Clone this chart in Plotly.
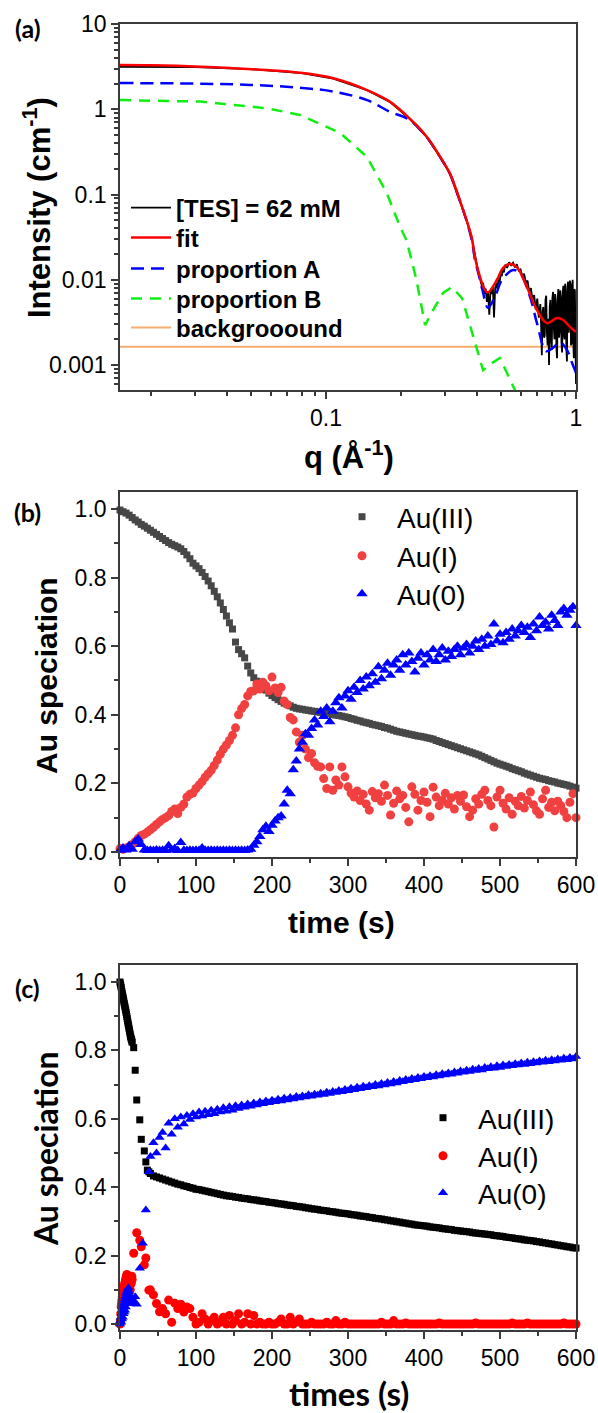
import plotly.graph_objects as go

W, H = 598, 1413

# ---------------- panel (a) data ----------------
Q_FIT = [0.015, 0.02, 0.0314, 0.0578, 0.0786, 0.107, 0.146, 0.180, 0.216, 0.253, 0.286, 0.313,
         0.343, 0.365, 0.383, 0.394, 0.413, 0.432, 0.444, 0.483, 0.51, 0.545, 0.58, 0.637,
         0.698, 0.766, 0.839, 0.887, 0.946, 1.0]
I_FIT = [3.30, 3.28, 3.16, 2.88, 2.68, 2.31, 1.68, 1.23, 0.78, 0.476, 0.278, 0.177,
         0.086, 0.050, 0.031, 0.0185, 0.0108, 0.0076, 0.0071, 0.0100, 0.0137, 0.0153, 0.0141, 0.0082,
         0.0044, 0.0031, 0.00356, 0.0034, 0.0028, 0.00244]

Q_A = [0.015, 0.03, 0.05, 0.0786, 0.107, 0.146, 0.18, 0.216, 0.253, 0.286, 0.313, 0.343, 0.365,
       0.383, 0.394, 0.413, 0.423, 0.444, 0.474, 0.506, 0.56, 0.597, 0.655, 0.698, 0.76, 0.81,
       0.863, 0.92, 0.963, 1.0]
I_A = [2.03, 2.00, 1.93, 1.79, 1.61, 1.28, 0.935, 0.75, 0.47, 0.275, 0.175, 0.085, 0.049,
       0.029, 0.0175, 0.0100, 0.0075, 0.0047, 0.0063, 0.0100, 0.0130, 0.0120, 0.0063, 0.0031, 0.00145, 0.00160,
       0.00185, 0.00150, 0.00107, 0.00081]

Q_B = [0.015, 0.0314, 0.0578, 0.0786, 0.114, 0.146, 0.175, 0.198, 0.21, 0.23, 0.249, 0.268, 0.294,
       0.319, 0.35, 0.38, 0.413, 0.425, 0.46, 0.496, 0.53, 0.57, 0.62]
I_B = [1.28, 1.23, 1.03, 0.857, 0.526, 0.275, 0.104, 0.0416, 0.029, 0.010, 0.00294, 0.0044, 0.0070,
       0.0082, 0.0061, 0.0027, 0.00121, 0.00087, 0.00105, 0.00121, 0.0008, 0.0005, 0.0003]

Q_DATA_LOW = [0.015, 0.02, 0.03, 0.05, 0.08, 0.107, 0.146, 0.18, 0.216, 0.253, 0.286, 0.313, 0.343,
              0.365, 0.383, 0.394, 0.405, 0.41]
I_DATA_LOW = [3.15, 3.15, 3.12, 2.95, 2.65, 2.29, 1.67, 1.22, 0.77, 0.47, 0.275, 0.175, 0.085,
              0.050, 0.031, 0.019, 0.013, 0.0112]
Q_DATA_MID = [0.415, 0.42, 0.425, 0.43, 0.435, 0.44, 0.445, 0.45, 0.455, 0.46, 0.465, 0.47, 0.475,
              0.48, 0.485, 0.49, 0.495, 0.50, 0.505, 0.51, 0.515, 0.52, 0.53, 0.54, 0.55, 0.56,
              0.57, 0.58, 0.59, 0.60, 0.61, 0.62, 0.63, 0.64, 0.65, 0.66, 0.67, 0.68, 0.69, 0.70,
              0.71]
I_DATA_MID = [0.0098, 0.0085, 0.0092, 0.0068, 0.0079, 0.0055, 0.0072, 0.0039, 0.0075, 0.0068, 0.0082,
              0.0036, 0.0080, 0.0091, 0.0078, 0.0105, 0.0094, 0.0118, 0.0110, 0.0135, 0.0122, 0.0150,
              0.0138, 0.0160, 0.0148, 0.0158, 0.0140, 0.0152, 0.0128, 0.0132, 0.0110, 0.0118, 0.0092,
              0.0098, 0.0072, 0.0080, 0.0058, 0.0066, 0.0045, 0.0060, 0.0036]
Q_DATA_HIGH = [0.720, 0.725, 0.730, 0.735, 0.740, 0.745, 0.750, 0.755, 0.760, 0.765, 0.770,
               0.775, 0.780, 0.785, 0.790, 0.795, 0.800, 0.805, 0.810, 0.815, 0.820, 0.825,
               0.830, 0.835, 0.840, 0.845, 0.850, 0.855, 0.860, 0.865, 0.870, 0.875, 0.880,
               0.885, 0.890, 0.895, 0.900, 0.905, 0.910, 0.915, 0.920, 0.925, 0.930, 0.935,
               0.940, 0.945, 0.950, 0.955, 0.960, 0.965, 0.970, 0.975, 0.980, 0.985, 0.990,
               0.995, 1.000]
I_DATA_HIGH = [0.0052, 0.0030, 0.0013, 0.0042, 0.0048, 0.0021, 0.0022, 0.0058, 0.0065, 0.0024, 0.0017,
               0.0035, 0.0010, 0.0048, 0.0058, 0.0019, 0.0015, 0.0062, 0.0072, 0.0028, 0.0020, 0.0068,
               0.0055, 0.0016, 0.0012, 0.0060, 0.0078, 0.0021, 0.0025, 0.0075, 0.0062, 0.0018, 0.0014,
               0.0070, 0.0085, 0.0022, 0.0020, 0.0090, 0.0070, 0.0016, 0.0011, 0.0082, 0.0095, 0.0024,
               0.0030, 0.0098, 0.0088, 0.0017, 0.0018, 0.0085, 0.0100, 0.0020, 0.0012, 0.0078, 0.0075,
               0.0020, 0.0006]
Q_BG = [0.015, 1.0]
I_BG = [0.00164, 0.00164]

# ---------------- panel (b) data (4 s sampling) ----------------
T_B = list(range(0, 601, 4))
B_AU3 = [0.997, 0.992, 0.988, 0.982, 0.975, 0.968, 0.962, 0.955, 0.950, 0.944,
         0.938, 0.932, 0.926, 0.920, 0.914, 0.908, 0.902, 0.897, 0.893, 0.889,
         0.884, 0.876, 0.866, 0.855, 0.842, 0.834, 0.826, 0.815, 0.803, 0.790,
         0.776, 0.760, 0.744, 0.726, 0.707, 0.688, 0.668, 0.650, 0.612, 0.590,
         0.578, 0.566, 0.542, 0.522, 0.508, 0.498, 0.488, 0.480, 0.472, 0.463,
         0.456, 0.450, 0.444, 0.439, 0.434, 0.430, 0.426, 0.422, 0.419, 0.417,
         0.416, 0.414, 0.413, 0.411, 0.410, 0.408, 0.407, 0.405, 0.404, 0.403,
         0.401, 0.399, 0.398, 0.396, 0.394, 0.392, 0.389, 0.387, 0.384, 0.382,
         0.379, 0.377, 0.375, 0.372, 0.370, 0.368, 0.366, 0.363, 0.361, 0.358,
         0.355, 0.352, 0.350, 0.348, 0.346, 0.344, 0.342, 0.340, 0.338, 0.337,
         0.335, 0.333, 0.331, 0.329, 0.325, 0.322, 0.319, 0.316, 0.313, 0.310,
         0.307, 0.304, 0.301, 0.298, 0.295, 0.292, 0.289, 0.286, 0.283, 0.279,
         0.275, 0.271, 0.267, 0.263, 0.259, 0.256, 0.253, 0.250, 0.247, 0.243,
         0.240, 0.237, 0.234, 0.230, 0.227, 0.224, 0.221, 0.218, 0.215, 0.213,
         0.211, 0.208, 0.206, 0.204, 0.201, 0.199, 0.197, 0.195, 0.192, 0.189,
         0.186]
B_AU1 = [0.010, 0.008, 0.012, 0.015, 0.022, 0.030, 0.040, 0.048, 0.052, 0.058,
         0.065, 0.072, 0.080, 0.088, 0.095, 0.100, 0.106, 0.118, 0.125, 0.112,
         0.130, 0.140, 0.160, 0.168, 0.172, 0.185, 0.195, 0.205, 0.218, 0.228,
         0.238, 0.252, 0.268, 0.285, 0.300, 0.312, 0.325, 0.340, 0.362, 0.400,
         0.418, 0.430, 0.455, 0.468, 0.470, 0.490, 0.475, 0.495, 0.485, 0.470,
         0.510, 0.478, 0.465, 0.480, 0.440, 0.430, 0.392, 0.385, 0.350, 0.320,
         0.340, 0.300, 0.275, 0.287, 0.260, 0.250, 0.248, 0.214, 0.185, 0.248,
         0.180, 0.210, 0.195, 0.248, 0.219, 0.190, 0.172, 0.160, 0.178, 0.150,
         0.168, 0.140, 0.122, 0.176, 0.158, 0.170, 0.148, 0.195, 0.165, 0.108,
         0.142, 0.178, 0.155, 0.165, 0.130, 0.088, 0.190, 0.168, 0.122, 0.150,
         0.175, 0.145, 0.103, 0.189, 0.160, 0.135, 0.150, 0.171, 0.140, 0.158,
         0.125, 0.165, 0.148, 0.166, 0.132, 0.103, 0.122, 0.155, 0.140, 0.168,
         0.180, 0.150, 0.135, 0.073, 0.160, 0.180, 0.142, 0.125, 0.158, 0.110,
         0.148, 0.135, 0.162, 0.128, 0.150, 0.175, 0.138, 0.120, 0.110, 0.155,
         0.180, 0.130, 0.145, 0.120, 0.148, 0.135, 0.118, 0.100, 0.145, 0.170,
         0.100]
B_AU0 = [0.005, 0.012, 0.006, 0.018, 0.008, 0.030, 0.038, 0.022, 0.006, 0.004,
         0.005, 0.004, 0.006, 0.004, 0.005, 0.004, 0.018, 0.006, 0.010, 0.004,
         0.028, 0.005, 0.004, 0.005, 0.004, 0.005, 0.004, 0.012, 0.005, 0.004,
         0.005, 0.004, 0.005, 0.004, 0.005, 0.004, 0.005, 0.004, 0.005, 0.004,
         0.005, 0.004, 0.006, 0.008, 0.020, 0.030, 0.045, 0.065, 0.075, 0.060,
         0.078, 0.090, 0.100, 0.105, 0.140, 0.180, 0.170, 0.240, 0.265, 0.300,
         0.320, 0.345, 0.340, 0.360, 0.385, 0.370, 0.410, 0.395, 0.420, 0.380,
         0.410, 0.435, 0.450, 0.420, 0.455, 0.470, 0.445, 0.480, 0.465, 0.500,
         0.475, 0.510, 0.485, 0.520, 0.495, 0.540, 0.505, 0.530, 0.550, 0.515,
         0.545, 0.560, 0.530, 0.575, 0.545, 0.580, 0.555, 0.525, 0.565, 0.580,
         0.545, 0.575, 0.560, 0.590, 0.555, 0.575, 0.595, 0.560, 0.585, 0.570,
         0.590, 0.600, 0.575, 0.595, 0.605, 0.580, 0.600, 0.615, 0.590, 0.620,
         0.600, 0.630, 0.605, 0.665, 0.615, 0.635, 0.610, 0.640, 0.620, 0.650,
         0.630, 0.645, 0.660, 0.640, 0.655, 0.625, 0.665, 0.645, 0.685, 0.660,
         0.670, 0.650, 0.690, 0.675, 0.660, 0.700, 0.710, 0.690, 0.705, 0.715,
         0.660]

# ---------------- panel (c) data ----------------
T_C = [i * 0.5 for i in range(33)] + list(range(18, 41, 2)) + list(range(44, 601, 4))
C_AU3 = [1.000, 0.995, 0.990, 0.984, 0.978, 0.972, 0.966, 0.960, 0.955, 0.950,
         0.944, 0.938, 0.933, 0.928, 0.922, 0.917, 0.911, 0.905, 0.899, 0.893,
         0.887, 0.881, 0.875, 0.869, 0.863, 0.858, 0.852, 0.846, 0.840, 0.836,
         0.832, 0.828, 0.824,
         0.808, 0.742, 0.655, None, 0.597, 0.540, None, 0.506, 0.474, 0.450, 0.445, 0.440,
         0.433, 0.430, 0.427, 0.424, 0.421, 0.418, 0.415, 0.412, 0.409, 0.407,
         0.404, 0.402, 0.399, 0.397, 0.394, 0.393, 0.391, 0.389, 0.387, 0.385,
         0.383, 0.381, 0.379, 0.377, 0.375, 0.374, 0.373, 0.371, 0.370, 0.368,
         0.367, 0.366, 0.364, 0.363, 0.362, 0.360, 0.359, 0.358, 0.356, 0.355,
         0.354, 0.352, 0.351, 0.350, 0.348, 0.347, 0.346, 0.344, 0.343, 0.342,
         0.340, 0.339, 0.337, 0.336, 0.335, 0.333, 0.332, 0.331, 0.329, 0.328,
         0.327, 0.325, 0.324, 0.323, 0.322, 0.320, 0.319, 0.318, 0.316, 0.315,
         0.314, 0.312, 0.311, 0.309, 0.308, 0.307, 0.305, 0.304, 0.302, 0.301,
         0.299, 0.298, 0.296, 0.295, 0.293, 0.292, 0.290, 0.289, 0.288, 0.287,
         0.286, 0.284, 0.283, 0.282, 0.281, 0.279, 0.278, 0.277, 0.276, 0.274,
         0.273, 0.272, 0.271, 0.270, 0.269, 0.267, 0.266, 0.265, 0.264, 0.263,
         0.262, 0.261, 0.259, 0.258, 0.257, 0.256, 0.254, 0.253, 0.252, 0.250,
         0.249, 0.248, 0.246, 0.245, 0.244, 0.243, 0.241, 0.240, 0.238, 0.237,
         0.235, 0.234, 0.232, 0.231, 0.229, 0.228, 0.226, 0.225, 0.223, 0.222]
C_AU1 = [0.000, 0.010, 0.030, 0.050, 0.060, 0.070, 0.080, 0.090, 0.095, 0.100,
         0.105, 0.110, 0.115, 0.120, 0.125, 0.130, 0.135, 0.140, 0.145, 0.140,
         0.135, 0.140, 0.130, 0.120, 0.140, 0.125, 0.110, 0.100, 0.130, 0.135,
         0.120, 0.140, 0.130,
         0.207, None, 0.267, None, 0.245, 0.226, None, 0.173, 0.193, None, 0.099, 0.100,
         0.085, 0.060, 0.036, 0.045, 0.030, 0.070, 0.005, 0.061, 0.045, 0.058,
         0.035, 0.050, 0.045, 0.020, 0.000, 0.005, 0.030, 0.015, 0.000, 0.010,
         0.020, 0.000, 0.005, 0.020, 0.000, 0.025, 0.000, 0.010, 0.030, 0.000,
         0.005, 0.030, 0.000, 0.025, 0.000, 0.005, 0.000, 0.000, 0.005, 0.000,
         0.000, 0.005, 0.015, 0.000, 0.000, 0.020, 0.000, 0.005, 0.015, 0.000,
         0.000, 0.000, 0.005, 0.000, 0.000, 0.000, 0.000, 0.005, 0.000, 0.000,
         0.010, 0.000, 0.000, 0.005, 0.000, 0.000, 0.000, 0.000, 0.000, 0.000,
         0.000, 0.000, 0.000, 0.000, 0.000, 0.005, 0.000, 0.000, 0.000, 0.010,
         0.000, 0.000, 0.000, 0.003, 0.000, 0.000, 0.000, 0.000, 0.000, 0.000,
         0.000, 0.000, 0.000, 0.000, 0.003, 0.000, 0.000, 0.000, 0.000, 0.000,
         0.000, 0.000, 0.000, 0.000, 0.000, 0.000, 0.003, 0.000, 0.000, 0.000,
         0.000, 0.000, 0.000, 0.000, 0.000, 0.000, 0.000, 0.000, 0.003, 0.000,
         0.000, 0.000, 0.000, 0.003, 0.000, 0.000, 0.000, 0.000, 0.000, 0.000,
         0.000, 0.000, 0.000, 0.000, 0.000, 0.003, 0.000, 0.000, 0.000, 0.000]
C_AU0 = [0.000, 0.010, 0.020, 0.005, 0.030, 0.015, 0.040, 0.020, 0.050, 0.030,
         0.060, 0.035, 0.070, 0.040, 0.080, 0.050, 0.090, 0.060, 0.095, 0.070,
         0.100, 0.080, 0.105, 0.075, 0.095, 0.085, 0.070, 0.060, 0.080, 0.065,
         0.070, 0.060, 0.075,
         0.065, 0.080, 0.058, None, 0.163, None, 0.236, None, 0.333, None, 0.445, 0.490,
         0.530, 0.500, 0.545, 0.560, 0.515, 0.587, 0.555, 0.600, 0.575, 0.605,
         0.585, 0.610, 0.598, 0.615, 0.605, 0.620, 0.608, 0.622, 0.612, 0.625,
         0.615, 0.628, 0.620, 0.632, 0.622, 0.635, 0.625, 0.638, 0.630, 0.640,
         0.634, 0.643, 0.637, 0.646, 0.640, 0.649, 0.644, 0.652, 0.647, 0.654,
         0.650, 0.657, 0.652, 0.660, 0.655, 0.662, 0.658, 0.665, 0.661, 0.667,
         0.664, 0.670, 0.666, 0.672, 0.669, 0.675, 0.671, 0.678, 0.674, 0.680,
         0.677, 0.683, 0.679, 0.686, 0.682, 0.689, 0.685, 0.692, 0.688, 0.695,
         0.691, 0.697, 0.694, 0.700, 0.696, 0.703, 0.699, 0.706, 0.702, 0.709,
         0.705, 0.712, 0.708, 0.715, 0.711, 0.718, 0.714, 0.721, 0.717, 0.724,
         0.720, 0.726, 0.722, 0.729, 0.725, 0.732, 0.728, 0.734, 0.730, 0.737,
         0.733, 0.740, 0.736, 0.742, 0.738, 0.745, 0.741, 0.747, 0.743, 0.750,
         0.746, 0.752, 0.748, 0.755, 0.750, 0.757, 0.753, 0.759, 0.755, 0.761,
         0.757, 0.763, 0.759, 0.765, 0.761, 0.767, 0.763, 0.769, 0.765, 0.771,
         0.767, 0.773, 0.769, 0.775, 0.771, 0.777, 0.773, 0.779, 0.775, 0.782]

LEG_A = ["[TES] = 62 mM", "fit", "proportion A", "proportion B", "backgrooound"]
LEG_S = ["Au(III)", "Au(I)", "Au(0)"]

# ---------------- helpers ----------------
def px(x):
    return x / W

def py(y):
    return 1 - y / H

AX = "#3a3a3a"
ARIAL = "Liberation Sans, Arial, sans-serif"
TICKFONT = dict(family=ARIAL, size=23, color="black")
XDOM = [px(120), px(576)]

def base_axis(**kw):
    d = dict(showline=True, linecolor=AX, linewidth=1.6, mirror=True, ticks="outside",
             ticklen=7, tickwidth=1.5, tickcolor=AX, showgrid=False, zeroline=False,
             tickfont=TICKFONT, automargin=False)
    d.update(kw)
    return d

fig = go.Figure()

# ---- panel (a) ----
fig.add_trace(go.Scatter(x=Q_BG, y=I_BG, mode="lines", name=LEG_A[4],
                         line=dict(color="#F5AE70", width=2), xaxis="x", yaxis="y", legend="legend5"))
fig.add_trace(go.Scatter(x=Q_DATA_LOW + Q_DATA_MID + Q_DATA_HIGH,
                         y=I_DATA_LOW + I_DATA_MID + I_DATA_HIGH, mode="lines",
                         name=LEG_A[0], line=dict(color="black", width=1.8),
                         xaxis="x", yaxis="y", legend="legend"))
fig.add_trace(go.Scatter(x=Q_B, y=I_B, mode="lines", name=LEG_A[3],
                         line=dict(color="#11EE11", width=2.5, dash="11px,8px"),
                         xaxis="x", yaxis="y", legend="legend4"))
fig.add_trace(go.Scatter(x=Q_A, y=I_A, mode="lines", name=LEG_A[2],
                         line=dict(color="#0000FF", width=2.5, dash="13px,7px", shape="spline"),
                         xaxis="x", yaxis="y", legend="legend3"))
fig.add_trace(go.Scatter(x=Q_FIT, y=I_FIT, mode="lines", name=LEG_A[1],
                         line=dict(color="#FF0000", width=2.5, shape="spline"),
                         xaxis="x", yaxis="y", legend="legend2"))

# ---- panel (b) ----
fig.add_trace(go.Scatter(x=T_B, y=B_AU3, mode="markers", name=LEG_S[0], cliponaxis=False,
                         marker=dict(symbol="square", size=7, color="#474747"),
                         xaxis="x2", yaxis="y2", legend="legend6"))
fig.add_trace(go.Scatter(x=T_B, y=B_AU1, mode="markers", name=LEG_S[1], cliponaxis=False,
                         marker=dict(symbol="circle", size=9, color="#F04040"),
                         xaxis="x2", yaxis="y2", legend="legend7"))
fig.add_trace(go.Scatter(x=T_B, y=B_AU0, mode="markers", name=LEG_S[2], cliponaxis=False,
                         marker=dict(symbol="triangle-up", size=10, color="#0000FF"),
                         xaxis="x2", yaxis="y2", legend="legend8"))

# ---- panel (c) ----
fig.add_trace(go.Scatter(x=T_C, y=C_AU3, mode="markers", name=LEG_S[0], cliponaxis=False,
                         marker=dict(symbol="square", size=7, color="black"),
                         xaxis="x3", yaxis="y3", legend="legend9"))
fig.add_trace(go.Scatter(x=T_C, y=C_AU1, mode="markers", name=LEG_S[1], cliponaxis=False,
                         marker=dict(symbol="circle", size=9, color="#FF0000"),
                         xaxis="x3", yaxis="y3", legend="legend10"))
fig.add_trace(go.Scatter(x=T_C, y=C_AU0, mode="markers", name=LEG_S[2], cliponaxis=False,
                         marker=dict(symbol="triangle-up", size=9, color="#0000FF"),
                         xaxis="x3", yaxis="y3", legend="legend11"))

minor_y_log = [m * 10.0 ** e for e in range(-4, 1) for m in range(2, 10)]
minor_x_log = [m * 10.0 ** e for e in (-2, -1) for m in range(2, 10)]

def leg(x, yc, size, bold=False, itemwidth=40):
    f = dict(family=ARIAL, size=size, color="black")
    if bold:
        f["weight"] = "bold"
    return dict(x=px(x), y=py(yc), xanchor="left", yanchor="middle", bgcolor="rgba(0,0,0,0)",
                font=f, itemwidth=itemwidth, borderwidth=0)

legends = {}
for key, yc in zip(["legend", "legend2", "legend3", "legend4", "legend5"], [208, 238, 269, 299, 328]):
    legends[key] = leg(126, yc, 24, bold=True)
for key, yc in zip(["legend6", "legend7", "legend8"], [517, 556, 594]):
    legends[key] = leg(327, yc, 28, itemwidth=60)
for key, yc in zip(["legend9", "legend10", "legend11"], [1118, 1156, 1193]):
    legends[key] = leg(408, yc, 28, itemwidth=60)

fig.update_layout(
    template="none",
    width=W, height=H, margin=dict(l=0, r=0, t=0, b=0, autoexpand=False),
    paper_bgcolor="white", plot_bgcolor="white",
    xaxis=base_axis(type="log", domain=XDOM, range=[-1.824, 0], anchor="y",
                    tickvals=[0.1, 1], ticktext=["0.1", "1"],
                    minor=dict(tickvals=minor_x_log, ticks="outside", ticklen=4, tickcolor=AX)),
    yaxis=base_axis(type="log", domain=[py(390), py(24)], range=[-3.293, 1], anchor="x",
                    tickvals=[0.001, 0.01, 0.1, 1, 10], ticktext=["0.001", "0.01", "0.1", "1", "10"],
                    minor=dict(tickvals=minor_y_log, ticks="outside", ticklen=4, tickcolor=AX)),
    xaxis2=base_axis(domain=XDOM, range=[0, 600], anchor="y2", dtick=100, tick0=0,
                     minor=dict(dtick=50, ticks="outside", ticklen=4, tickcolor=AX)),
    yaxis2=base_axis(domain=[py(857), py(492)], range=[-0.0146, 1.0495], anchor="x2",
                     dtick=0.2, tick0=0, tickformat=".1f",
                     minor=dict(dtick=0.1, ticks="outside", ticklen=4, tickcolor=AX)),
    xaxis3=base_axis(domain=XDOM, range=[0, 600], anchor="y3", dtick=100, tick0=0,
                     minor=dict(dtick=50, ticks="outside", ticklen=4, tickcolor=AX)),
    yaxis3=base_axis(domain=[py(1330), py(965)], range=[-0.0175, 1.0497], anchor="x3",
                     dtick=0.2, tick0=0, tickformat=".1f",
                     minor=dict(dtick=0.1, ticks="outside", ticklen=4, tickcolor=AX)),
    showlegend=True,
    **legends,
)

ARIAL_B = dict(family=ARIAL, color="black", weight="bold")
LATO_B = dict(family="Lato, sans-serif", color="black", weight="bold")

def ann(text, x, y, font, size, angle=0):
    f = dict(font)
    f["size"] = size
    fig.add_annotation(text=text, x=px(x), y=py(y), xref="paper", yref="paper",
                       showarrow=False, textangle=angle, font=f,
                       xanchor="center", yanchor="middle")

ann("(a)", 28, 28, LATO_B, 25)
ann("(b)", 27, 512, LATO_B, 25)
ann("(c)", 28, 988, LATO_B, 25)
ann("Intensity (cm<sup>-1</sup>)", 37, 208, ARIAL_B, 31, -90)
ann("q (Å<sup>-1</sup>)", 349, 455, ARIAL_B, 31)
ann("Au speciation", 46, 676, ARIAL_B, 30, -90)
ann("time (s)", 342, 922, ARIAL_B, 30)
ann("Au speciation", 45, 1149, LATO_B, 32, -90)
ann("times (s)", 349, 1393, LATO_B, 33)

fig.write_html(
    "out.html",
    config={"displayModeBar": False},
    post_script="document.body.style.margin='0';document.body.style.padding='0';"
                "document.body.style.overflow='hidden';",
)
